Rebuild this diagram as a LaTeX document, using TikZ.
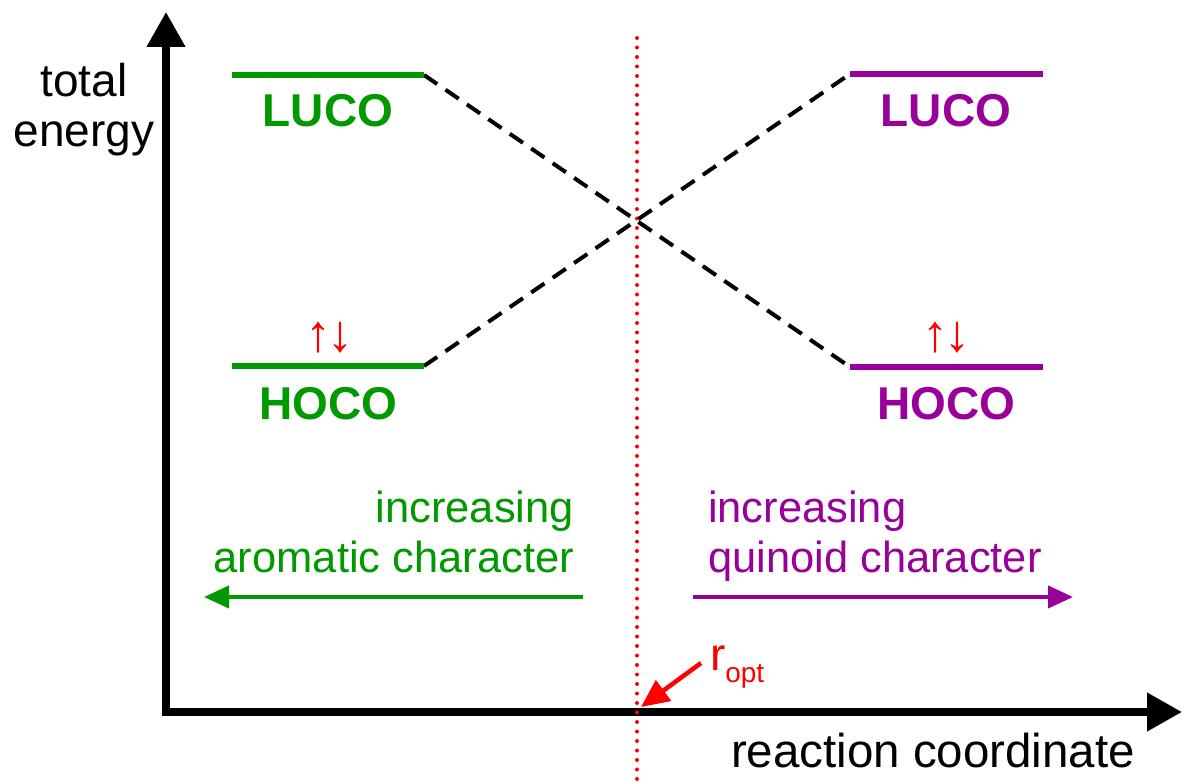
\documentclass[tikz,border=0pt]{standalone}
\usepackage{fontspec}
\setmainfont{Liberation Sans}
\usetikzlibrary{arrows.meta}
\definecolor{mogreen}{RGB}{0,153,0}
\definecolor{mopurple}{RGB}{153,0,153}
\definecolor{mored}{RGB}{255,0,0}
\newcommand{\fs}[1]{\fontsize{#1}{#1}\selectfont}
\newcommand{\fsl}[2]{\fontsize{#1}{#2}\selectfont}
\tikzset{
  axis/.style={line width=7.5pt,-{Triangle[length=35pt,width=37pt]}},
  level/.style={line width=6pt},
  corr/.style={line width=4pt,dash pattern=on 16pt off 10pt},
  lbl/.style={inner sep=0pt,outer sep=0pt},
  dirarrow/.style={line width=4pt,-{Triangle[length=25pt,width=22pt]}},
  spin/.style={lbl,font={\fs{52}},text=mored},
}
\begin{document}
\begin{tikzpicture}[x=1pt,y=-1pt]
\useasboundingbox (0,0) rectangle (1183,783);
% axes
\coordinate (ybot) at (166,716);
\coordinate (ytop) at (166,12);
\coordinate (xbeg) at (162,712);
\coordinate (xend) at (1182,712);
\draw[axis] (ybot) -- (ytop);
\draw[axis] (xbeg) -- (xend);
\node[lbl,align=center,font={\fsl{46}{50}},anchor=base] (ylab) at (84,147) {total\\energy};
\node[lbl,font={\fs{47.5}},anchor=base west] (xlab) at (731,767) {reaction coordinate};
% dotted optimum line
\coordinate (dtop) at (637,38);
\coordinate (dbot) at (637,783);
\draw[mored,line width=4pt,line cap=round,dash pattern=on 0pt off 9.5pt] (dtop) -- (dbot);
% levels
\coordinate (gLa) at (232,75);  \coordinate (gLb) at (424,75);
\coordinate (gHa) at (232,366); \coordinate (gHb) at (424,366);
\coordinate (pLa) at (850,74);  \coordinate (pLb) at (1043,74);
\coordinate (pHa) at (850,367); \coordinate (pHb) at (1043,367);
\draw[corr] (gLb) -- (pHa);
\draw[corr] (gHb) -- (pLa);
\draw[level,mogreen] (gLa) -- (gLb);
\draw[level,mogreen] (gHa) -- (gHb);
\draw[level,mopurple] (pLa) -- (pLb);
\draw[level,mopurple] (pHa) -- (pHb);
\node[lbl,font={\fs{46}\bfseries},text=mogreen,anchor=base] (gLUCO) at (328,127) {LUCO};
\node[lbl,font={\fs{46}\bfseries},text=mogreen,anchor=base] (gHOCO) at (328,419) {HOCO};
\node[lbl,font={\fs{46}\bfseries},text=mopurple,anchor=base] (pLUCO) at (946,127) {LUCO};
\node[lbl,font={\fs{46}\bfseries},text=mopurple,anchor=base] (pHOCO) at (946,419) {HOCO};
\node[spin] (gspin) at (329,338) {↑\kern-4pt↓};
\node[spin] (pspin) at (946,338) {↑\kern-4pt↓};
% direction labels
\node[lbl,font={\fs{43.5}},text=mogreen,anchor=base east] (ginc) at (574,522) {increasing};
\node[lbl,font={\fs{43.5}},text=mogreen,anchor=base east] (garo) at (574,572) {aromatic character};
\node[lbl,font={\fs{43.5}},text=mopurple,anchor=base west] (pinc) at (708,522) {increasing};
\node[lbl,font={\fs{43.5}},text=mopurple,anchor=base west] (pqui) at (708,572) {quinoid character};
\coordinate (gas) at (583,597); \coordinate (gae) at (204,597);
\coordinate (pas) at (693,597); \coordinate (pae) at (1073,597);
\draw[dirarrow,mogreen] (gas) -- (gae);
\draw[dirarrow,mopurple] (pas) -- (pae);
% r_opt
\node[lbl,font={\fs{46}},text=mored,anchor=base west] (ropt) at (710,670) {r\raisebox{-12pt}{\fs{28}opt}};
\coordinate (rs) at (701,663);
\coordinate (re) at (641,707);
\draw[mored,line width=4.5pt,-{Triangle[length=28pt,width=25pt]}] (rs) -- (re);
\end{tikzpicture}
\end{document}
